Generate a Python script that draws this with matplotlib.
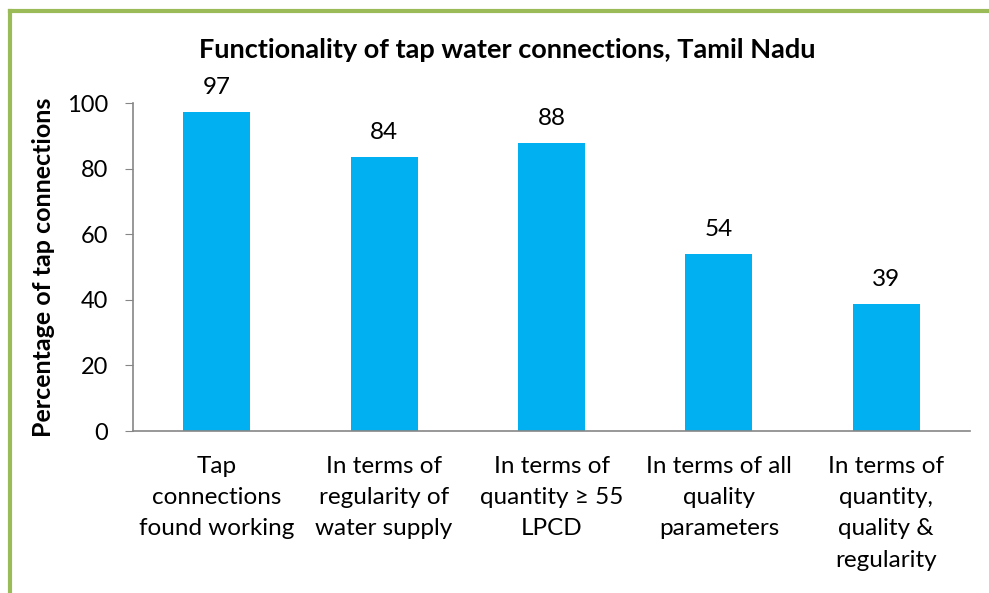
import matplotlib
matplotlib.use("Agg")
from matplotlib import pyplot as plt
from matplotlib.lines import Line2D

categories = ["Tap\nconnections\nfound working",
              "In terms of\nregularity of\nwater supply",
              "In terms of\nquantity \u2265 55\nLPCD",
              "In terms of all\nquality\nparameters",
              "In terms of\nquantity,\nquality &\nregularity"]
values = [97.4, 83.5, 87.7, 54.1, 38.8]
labels = ["97", "84", "88", "54", "39"]
yticks = [0, 20, 40, 60, 80, 100]

plt.rcParams['font.family'] = ['Lato', 'DejaVu Sans']

fig = plt.figure(figsize=(9.89, 5.93), dpi=100)
ax = fig.add_axes([133/989, 1 - 431/593, (970 - 133)/989, 328/593])

x = list(range(len(categories)))
ax.bar(x, values, width=0.4, color='#00B0F0', zorder=2)
for xi, v, lab in zip(x, values, labels):
    ax.annotate(lab, (xi, v), xytext=(0, 10), textcoords='offset points',
                ha='center', va='bottom', fontsize=17.5, color='black')

ax.set_xlim(-0.5, len(categories) - 0.5)
ax.set_ylim(0, 100)
ax.set_yticks(yticks)
ax.set_xticks(x)
ax.set_xticklabels(categories, fontsize=17.5, linespacing=1.6, va='top')
ax.tick_params(axis='x', length=0, pad=18)
ax.tick_params(axis='y', labelsize=17, length=6, color='#868686', pad=12)
for s in ['top', 'right']:
    ax.spines[s].set_visible(False)
for s in ['left', 'bottom']:
    ax.spines[s].set_color('#868686')
    ax.spines[s].set_linewidth(1.2)

ax.set_ylabel("Percentage of tap connections", fontsize=18, fontweight='bold')
ax.yaxis.set_label_coords((55 - 133)/837, 0.5)
fig.text(507/989, 1 - 50/593, "Functionality of tap water connections, Tamil Nadu",
         ha='center', va='center', fontsize=19.5, fontweight='bold')

# green frame on left and top
fig.add_artist(Line2D([10/989, 10/989], [0, 1 - 11/593], transform=fig.transFigure,
                      color='#9BBB59', lw=3))
fig.add_artist(Line2D([10/989, 1], [1 - 11/593, 1 - 11/593], transform=fig.transFigure,
                      color='#9BBB59', lw=3))

fig.savefig("out.png", dpi=100)
